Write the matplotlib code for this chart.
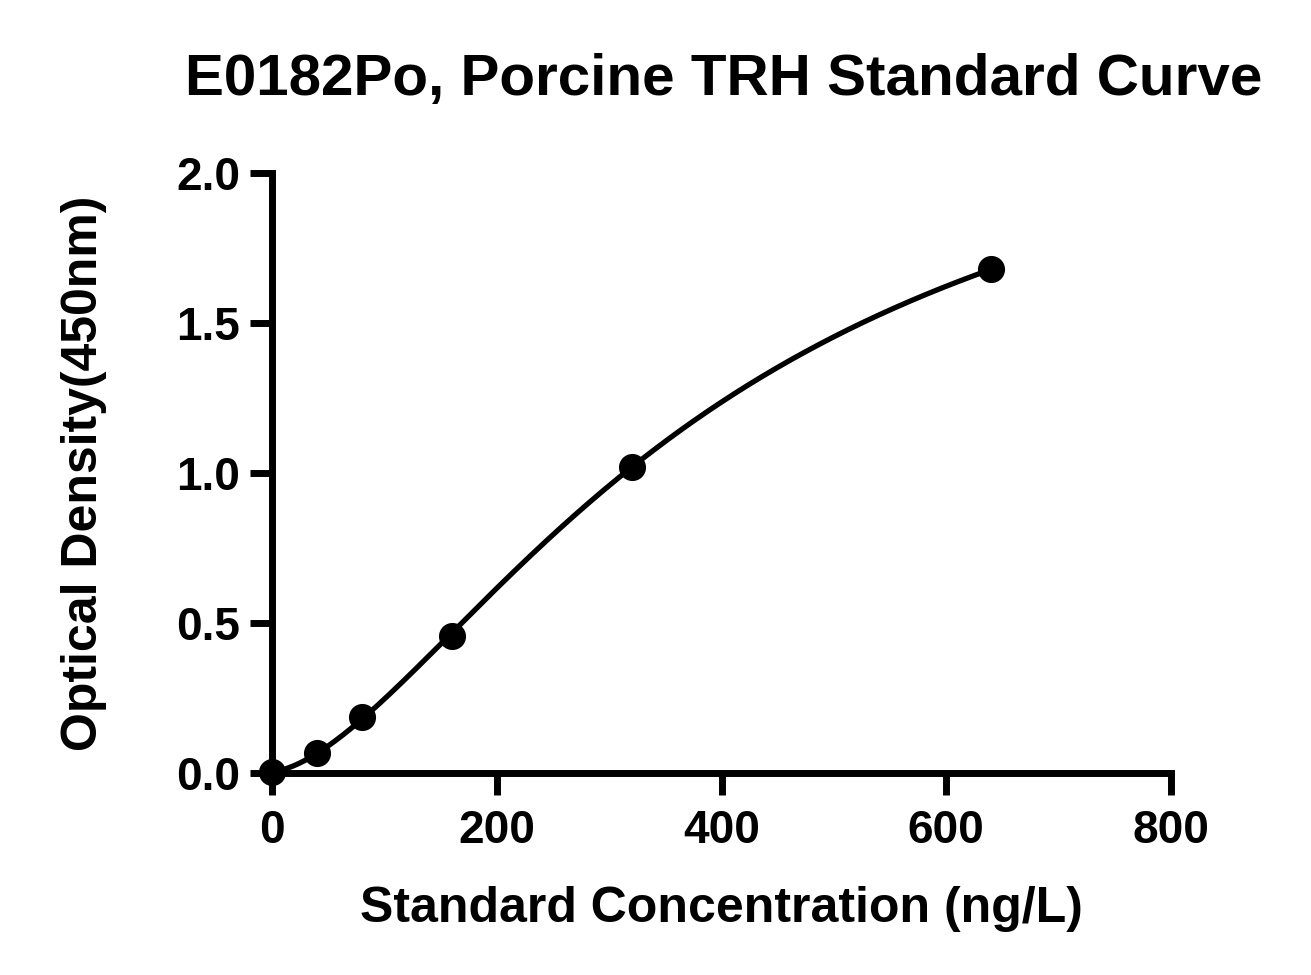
import numpy as np
import matplotlib
matplotlib.use("Agg")
import matplotlib.pyplot as plt

# standard points
conc = np.array([0, 40, 80, 160, 320, 640])
od = np.array([0.003, 0.067, 0.187, 0.457, 1.02, 1.68])

title = "E0182Po, Porcine TRH Standard Curve"
xlabel = "Standard Concentration (ng/L)"
ylabel = "Optical Density(450nm)"
xticks = [0, 200, 400, 600, 800]
yticks = [0.0, 0.5, 1.0, 1.5, 2.0]


def fit_4pl(x, y):
    # grid over slope b and midpoint c, top/bottom solved linearly
    best = None
    for b in np.linspace(1.0, 4.0, 121):
        for c in np.linspace(150, 3000, 286):
            f = 1.0 / (1.0 + (x / c) ** b)
            A = np.column_stack([f, 1 - f])
            coef, *_ = np.linalg.lstsq(A, y, rcond=None)
            err = np.sum((A @ coef - y) ** 2)
            if best is None or err < best[0]:
                best = (err, coef[0], coef[1], b, c)
    return best[1:]


a, d, b, c = fit_4pl(conc.astype(float), od)
xs = np.linspace(0, conc.max(), 400)
ys = d + (a - d) / (1 + (xs / c) ** b)

plt.rcParams['font.family'] = ['Liberation Sans', 'DejaVu Sans']
plt.rcParams['font.weight'] = 'bold'

fig = plt.figure(figsize=(13.11, 9.75), dpi=100)
ax = fig.add_axes([0.2075, 0.2072, 0.8932 - 0.2075, 0.8226 - 0.2072])

ax.plot(xs, ys, color='black', lw=3.8, clip_on=False)
ax.plot(conc, od, 'o', color='black', ms=18.5, clip_on=False, zorder=5)

ax.set_xlim(0, 800)
ax.set_ylim(0, 2.0)
ax.set_xticks(xticks)
ax.set_yticks(yticks)
ax.set_yticklabels([f"{v:.1f}" for v in yticks])

for s in ['top', 'right']:
    ax.spines[s].set_visible(False)
for s in ['left', 'bottom']:
    ax.spines[s].set_linewidth(5)
ax.tick_params(width=5, length=16, labelsize=33)
ax.tick_params(axis='x', pad=10)
ax.tick_params(axis='y', pad=7)
for lab in ax.get_xticklabels() + ax.get_yticklabels():
    lab.set_fontweight('bold')

ax.set_xlabel(xlabel, fontsize=36, fontweight='bold', labelpad=24)
ax.set_ylabel(ylabel, fontsize=36, fontweight='bold', labelpad=50)
fig.text(0.552, 0.918, title, fontsize=42, fontweight='bold',
         ha='center', va='center')

fig.savefig("out.png", dpi=100)
